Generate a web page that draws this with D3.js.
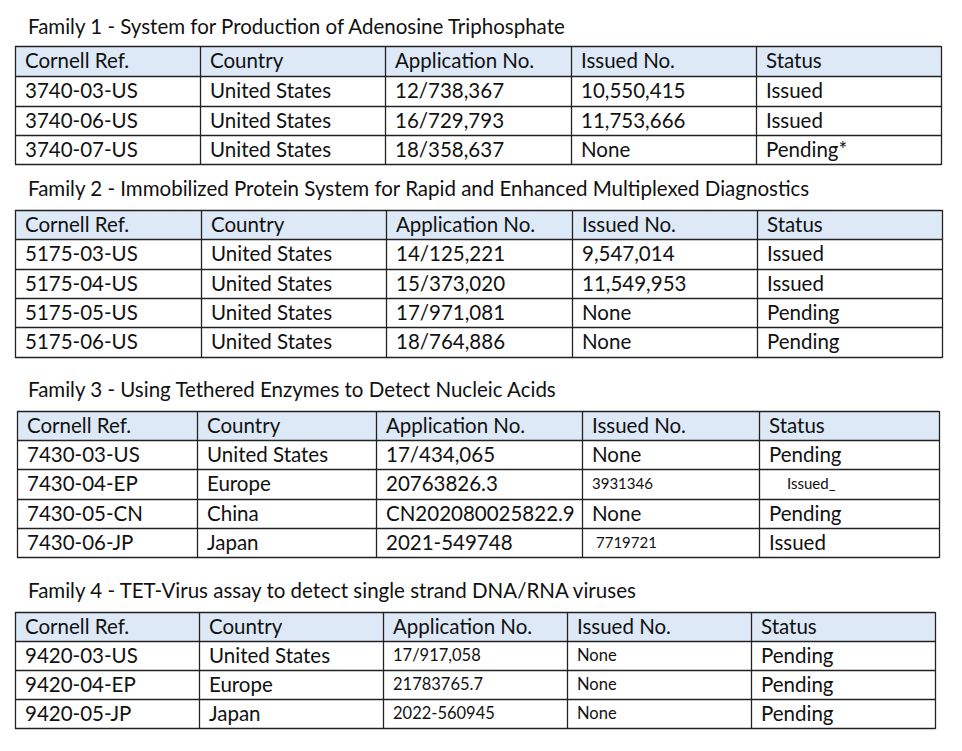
<!DOCTYPE html>
<html><head><meta charset="utf-8">
<script src="https://cdn.jsdelivr.net/npm/d3@7"></script>
<style>body{margin:0;background:#fff}svg{display:block}text{font-family:Lato,"Open Sans",sans-serif;fill:#111}</style>
</head><body><svg id="c" width="962" height="751"></svg>
<script>
const headers = ["Cornell Ref.","Country","Application No.","Issued No.","Status"];
const titles = [
 "Family 1 - System for Production of Adenosine Triphosphate",
 "Family 2 - Immobilized Protein System for Rapid and Enhanced Multiplexed Diagnostics",
 "Family 3 - Using Tethered Enzymes to Detect Nucleic Acids",
 "Family 4 - TET-Virus assay to detect single strand DNA/RNA viruses"];
const family1 = [
 ["3740-03-US","United States","12/738,367","10,550,415","Issued"],
 ["3740-06-US","United States","16/729,793","11,753,666","Issued"],
 ["3740-07-US","United States","18/358,637","None","Pending*"]];
const family2 = [
 ["5175-03-US","United States","14/125,221","9,547,014","Issued"],
 ["5175-04-US","United States","15/373,020","11,549,953","Issued"],
 ["5175-05-US","United States","17/971,081","None","Pending"],
 ["5175-06-US","United States","18/764,886","None","Pending"]];
const family3 = [
 ["7430-03-US","United States","17/434,065","None","Pending"],
 ["7430-04-EP","Europe","20763826.3","3931346","Issued_"],
 ["7430-05-CN","China","CN202080025822.9","None","Pending"],
 ["7430-06-JP","Japan","2021-549748","7719721","Issued"]];
const family4 = [
 ["9420-03-US","United States","17/917,058","None","Pending"],
 ["9420-04-EP","Europe","21783765.7","None","Pending"],
 ["9420-05-JP","Japan","2022-560945","None","Pending"]];

const layout = [
 {data:family1, titleY:34, top:46, cols:[15,200,385,571,756,941], rh:[30,30,29,29]},
 {data:family2, titleY:196, top:210, cols:[15,201,386,572,757,942], rh:[29,30,29,29,30]},
 {data:family3, titleY:397, top:411, cols:[17,197,376,582,759,939], rh:[29,29,30,29,29]},
 {data:family4, titleY:598, top:612, cols:[15,199,383,567,751,935], rh:[29,29,29,29,29]}];
// small-font cells [table, row, col]
const small = s => ["3931346","Issued_","7719721"].includes(s);

const svg = d3.select("#c");
layout.forEach((t,ti)=>{
  svg.append("text").attr("x",28).attr("y",t.titleY).attr("font-size",20.5).text(titles[ti]);
  const rows = [headers, ...t.data];
  let y = t.top;
  rows.forEach((r,ri)=>{
    const h = t.rh[ri];
    if(ri===0) svg.append("rect").attr("x",t.cols[0]).attr("y",y).attr("width",t.cols[5]-t.cols[0]).attr("height",h).attr("fill","#dde9f7");
    r.forEach((v,ci)=>{
      let fs = 20.5, dx = 10;
      if(small(v)){fs=15; if(v==="Issued_")dx=28; if(v==="7719721")dx=14;}
      if(ti===3 && ri>0 && (ci===2||ci===3)) fs=16.5;
      svg.append("text").attr("x",t.cols[ci]+dx).attr("y",y+h/2+(fs>18?7:5)).attr("font-size",fs).text(v);
    });
    y += h;
  });
  const bottom = y;
  // horizontal lines
  let yy = t.top;
  [0,...t.rh].forEach((h,i)=>{ yy += h;
    const ly = i===0? t.top : yy - h + h; });
  let acc=[t.top]; t.rh.forEach(h=>acc.push(acc[acc.length-1]+h));
  svg.selectAll(null).data(acc).enter().append("line")
    .attr("x1",t.cols[0]).attr("x2",t.cols[5]).attr("y1",d=>d+0.5).attr("y2",d=>d+0.5)
    .attr("stroke","#222").attr("stroke-width",1.3);
  svg.selectAll(null).data(t.cols).enter().append("line")
    .attr("x1",d=>d+0.5).attr("x2",d=>d+0.5).attr("y1",t.top).attr("y2",bottom+1)
    .attr("stroke","#222").attr("stroke-width",1.3);
});
</script></body></html>
